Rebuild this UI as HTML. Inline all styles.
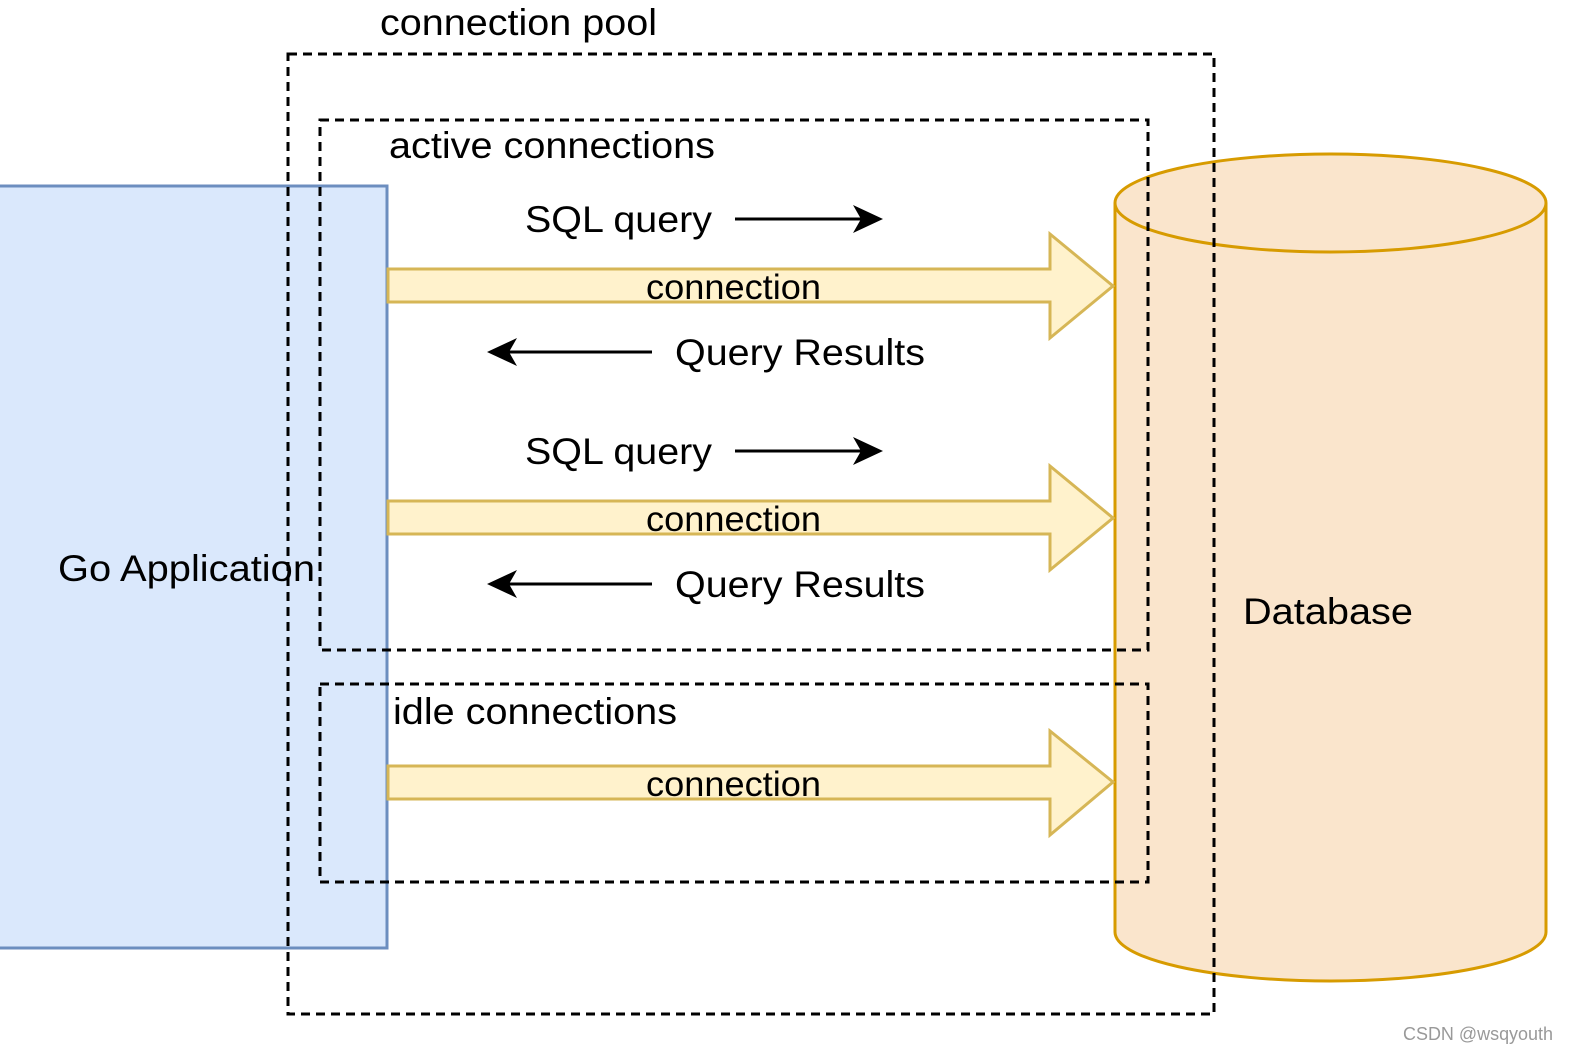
<!DOCTYPE html>
<html><head><meta charset="utf-8"><style>
html,body{margin:0;padding:0;background:#fff;}
svg{display:block;}
text{font-family:"Liberation Sans",Helvetica,Arial,sans-serif;fill:#000;}
</style></head><body>
<svg width="1582" height="1062" viewBox="0 0 1582 1062" xmlns="http://www.w3.org/2000/svg">
<!-- Go Application -->
<rect x="-2" y="186" width="389" height="762" fill="#dae8fc" stroke="#6c8ebf" stroke-width="3"/>
<text x="58" y="581" font-size="37" textLength="257" lengthAdjust="spacingAndGlyphs">Go Application</text>
<!-- Database cylinder -->
<path d="M1115,203 L1115,932 A215.5,49 0 0 0 1546,932 L1546,203" fill="#fae5cc" stroke="#d79b00" stroke-width="3"/>
<ellipse cx="1330.5" cy="203" rx="215.5" ry="49" fill="#fae5cc" stroke="#d79b00" stroke-width="3"/>
<text x="1243" y="624" font-size="37" textLength="170" lengthAdjust="spacingAndGlyphs">Database</text>
<!-- dashed boxes -->
<g fill="none" stroke="#000" stroke-width="3" stroke-dasharray="9 6">
<rect x="288" y="54" width="926" height="960"/>
<rect x="320" y="120" width="828" height="530"/>
<rect x="320" y="684" width="828" height="198"/>
</g>
<text x="380" y="35" font-size="37" textLength="277" lengthAdjust="spacingAndGlyphs">connection pool</text>
<text x="389" y="158" font-size="37" textLength="326" lengthAdjust="spacingAndGlyphs">active connections</text>
<text x="393" y="724" font-size="37" textLength="284" lengthAdjust="spacingAndGlyphs">idle connections</text>
<!-- block arrows -->
<g fill="#fff2cc" stroke="#d6b656" stroke-width="3">
<path d="M388,269 L1050,269 L1050,234 L1113,286 L1050,338 L1050,302 L388,302 Z"/>
<path d="M388,501 L1050,501 L1050,466 L1113,518 L1050,570 L1050,534 L388,534 Z"/>
<path d="M388,766 L1050,766 L1050,731 L1113,782 L1050,835 L1050,799 L388,799 Z"/>
</g>
<g font-size="35">
<text x="646" y="299" textLength="175" lengthAdjust="spacingAndGlyphs">connection</text>
<text x="646" y="531" textLength="175" lengthAdjust="spacingAndGlyphs">connection</text>
<text x="646" y="796" textLength="175" lengthAdjust="spacingAndGlyphs">connection</text>
</g>
<!-- SQL query / results -->
<g font-size="37">
<text x="525" y="232" textLength="187" lengthAdjust="spacingAndGlyphs">SQL query</text>
<text x="525" y="464" textLength="187" lengthAdjust="spacingAndGlyphs">SQL query</text>
<text x="675" y="365" textLength="250" lengthAdjust="spacingAndGlyphs">Query Results</text>
<text x="675" y="597" textLength="250" lengthAdjust="spacingAndGlyphs">Query Results</text>
</g>
<g stroke="#000" stroke-width="3">
<line x1="735" y1="219" x2="870" y2="219"/>
<line x1="735" y1="451" x2="870" y2="451"/>
<line x1="652" y1="352" x2="500" y2="352"/>
<line x1="652" y1="584" x2="500" y2="584"/>
</g>
<g fill="#000">
<path d="M883,219 L853,205 L861,219 L853,233 Z"/>
<path d="M883,451 L853,437 L861,451 L853,465 Z"/>
<path d="M487,352 L517,338 L509,352 L517,366 Z"/>
<path d="M487,584 L517,570 L509,584 L517,598 Z"/>
</g>
<text x="1403" y="1040" font-size="18" textLength="150" lengthAdjust="spacingAndGlyphs" style="fill:#999">CSDN @wsqyouth</text>
</svg>
</body></html>
